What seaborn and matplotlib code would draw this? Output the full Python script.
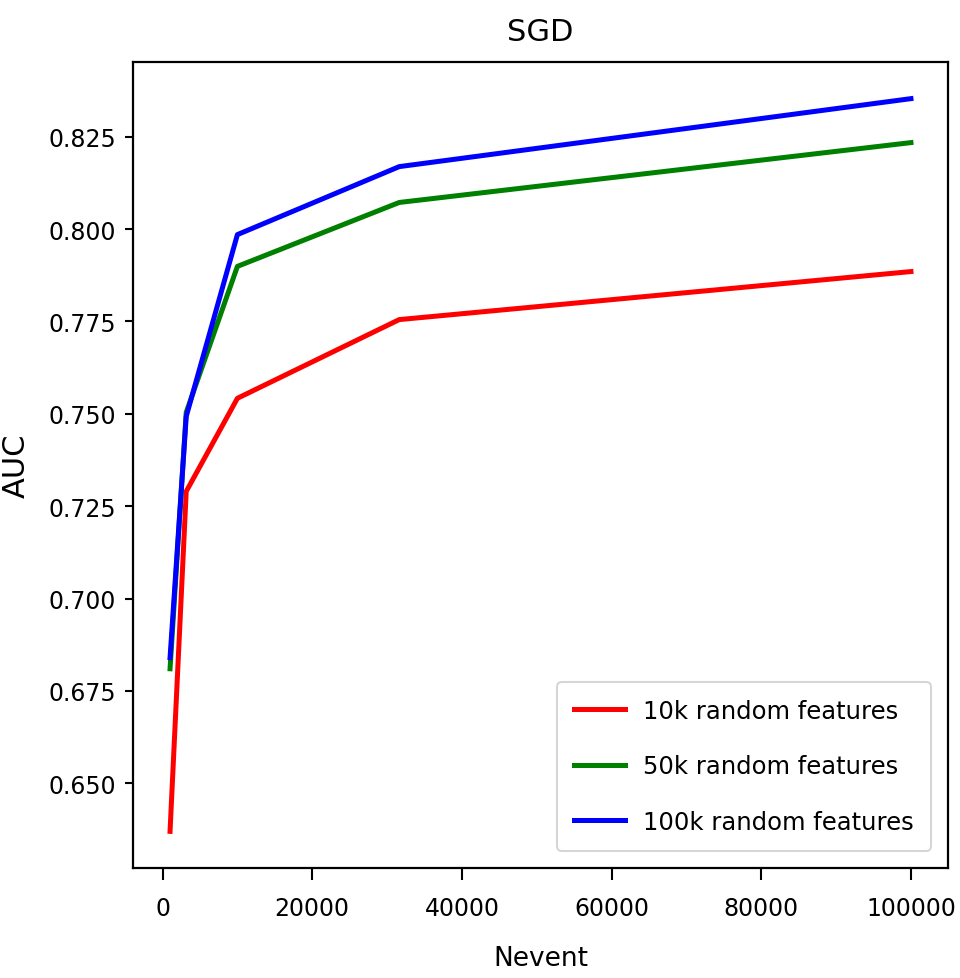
import matplotlib
matplotlib.use("Agg")
import matplotlib.pyplot as plt
import seaborn as sns
import pandas as pd

nevent = [1000, 3162, 10000, 31623, 100000]
auc_10k = [0.637, 0.729, 0.7542, 0.7755, 0.7885]
auc_50k = [0.681, 0.7504, 0.7899, 0.8072, 0.8234]
auc_100k = [0.684, 0.7493, 0.7985, 0.8169, 0.8353]
labels = ["10k random features", "50k random features", "100k random features"]
colors = ["red", "green", "blue"]

rows = []
for lab, vals in zip(labels, [auc_10k, auc_50k, auc_100k]):
    for x, y in zip(nevent, vals):
        rows.append({"Nevent": x, "AUC": y, "series": lab})
df = pd.DataFrame(rows)

plt.rcParams['font.family'] = ['DejaVu Sans']
fs = 17
fig = plt.figure(figsize=(9.6, 9.79), dpi=100)
ax = fig.add_axes([133/960, 1-869/979, (948-133)/960, (869-63)/979])
sns.lineplot(data=df, x="Nevent", y="AUC", hue="series", palette=colors,
             hue_order=labels, linewidth=3.6, ax=ax)
ax.set_xticks([0, 20000, 40000, 60000, 80000, 100000])
ax.set_yticks([0.650, 0.675, 0.700, 0.725, 0.750, 0.775, 0.800, 0.825])
ax.set_yticklabels(["0.650", "0.675", "0.700", "0.725", "0.750", "0.775", "0.800", "0.825"])
ax.tick_params(labelsize=fs, width=1.5)
ax.tick_params(axis='x', length=8.5, pad=12)
ax.tick_params(axis='y', length=6, pad=6)
for s in ax.spines.values():
    s.set_linewidth(1.6)
ax.set_xlabel("Nevent", fontsize=fs + 2)
ax.set_ylabel("AUC", fontsize=fs + 5)
ax.xaxis.set_label_coords(0.5, -0.095)
ax.yaxis.set_label_coords(-0.125, 0.5)
ax.set_title("SGD", fontsize=fs + 5, pad=16)
leg = ax.legend(loc="lower right", fontsize=fs + 0.5, handlelength=2.1, borderpad=0.7,
                labelspacing=1.3, handletextpad=0.75, borderaxespad=0.7)
leg.get_frame().set_linewidth(1.5)
fig.savefig("out.png", dpi=100)
